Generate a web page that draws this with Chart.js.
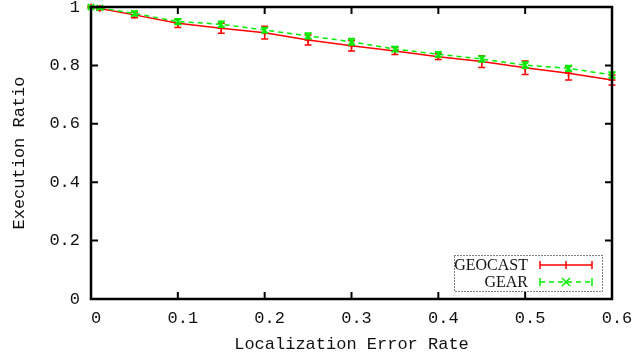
<!DOCTYPE html>
<html>
<head>
<meta charset="utf-8">
<script src="https://cdn.jsdelivr.net/npm/chart.js@4/dist/chart.umd.min.js"></script>
<style>
  html, body { margin: 0; padding: 0; background: #fff; }
  #wrap { width: 634px; height: 362px; }
</style>
</head>
<body>
<div id="wrap"><canvas id="chart" width="634" height="362"></canvas></div>
<script>
// localization error rate vs. execution ratio
const errorRates = [0, 0.01, 0.05, 0.1, 0.15, 0.2, 0.25, 0.3, 0.35, 0.4, 0.45, 0.5, 0.55, 0.6];
const geocastRatio = [1.0, 0.995, 0.973, 0.944, 0.927, 0.912, 0.887, 0.867, 0.849, 0.830, 0.813, 0.792, 0.773, 0.750];
const geocastErr = [0.003, 0.005, 0.010, 0.014, 0.017, 0.022, 0.017, 0.018, 0.012, 0.010, 0.020, 0.023, 0.023, 0.017];
const gearRatio = [1.0, 0.997, 0.978, 0.950, 0.941, 0.921, 0.901, 0.881, 0.856, 0.838, 0.822, 0.801, 0.790, 0.767];
const gearErr = [0.003, 0.004, 0.008, 0.010, 0.010, 0.009, 0.010, 0.011, 0.009, 0.009, 0.010, 0.011, 0.010, 0.010];
const xTicks = [0, 0.1, 0.2, 0.3, 0.4, 0.5, 0.6];
const yTicks = [0, 0.2, 0.4, 0.6, 0.8, 1];

const RED = '#ff0000';
const GREEN = '#00ee00';
const MONO = '"Liberation Mono", "DejaVu Sans Mono", monospace';
const SERIF = '"Liberation Serif", "DejaVu Serif", serif';

const fmt = v => String(+(+v).toFixed(1));

function pts(ys) {
    return errorRates.map((x, i) => ({ x: x, y: ys[i] }));
}

// vertical error bars with caps, drawn right after each dataset
const errorBars = {
    id: 'errorBars',
    afterDatasetDraw(chart, args) {
        const ds = chart.data.datasets[args.index];
        if (!ds.errors) return;
        const ctx = chart.ctx;
        const xs = chart.scales.x, ys = chart.scales.y;
        ctx.save();
        ctx.strokeStyle = ds.borderColor;
        ctx.lineWidth = 1.5;
        ctx.setLineDash([]);
        ds.data.forEach((p, i) => {
            const e = ds.errors[i];
            const px = xs.getPixelForValue(p.x);
            const top = ys.getPixelForValue(p.y + e);
            const bot = ys.getPixelForValue(p.y - e);
            ctx.beginPath();
            ctx.moveTo(px, top); ctx.lineTo(px, bot);
            ctx.moveTo(px - 3.5, top); ctx.lineTo(px + 3.5, top);
            ctx.moveTo(px - 3.5, bot); ctx.lineTo(px + 3.5, bot);
            ctx.stroke();
        });
        ctx.restore();
    }
};

// border box, inward ticks on all sides, and the boxed key
const frame = {
    id: 'frame',
    afterDraw(chart) {
        const ctx = chart.ctx;
        const a = chart.chartArea;
        const xs = chart.scales.x, ys = chart.scales.y;
        ctx.save();
        ctx.strokeStyle = '#000';
        ctx.lineWidth = 2;
        ctx.beginPath();
        xTicks.forEach(v => {
            const px = xs.getPixelForValue(v);
            ctx.moveTo(px, a.bottom); ctx.lineTo(px, a.bottom - 7);
            ctx.moveTo(px, a.top); ctx.lineTo(px, a.top + 7);
        });
        yTicks.forEach(v => {
            const py = ys.getPixelForValue(v);
            ctx.moveTo(a.left, py); ctx.lineTo(a.left + 7, py);
            ctx.moveTo(a.right, py); ctx.lineTo(a.right - 7, py);
        });
        ctx.stroke();
        ctx.lineWidth = 2.5;
        ctx.strokeRect(a.left, a.top, a.right - a.left, a.bottom - a.top);

        // key
        const bx = a.right - 158, by = a.bottom - 44, bw = 148, bh = 36;
        ctx.lineWidth = 1;
        ctx.setLineDash([1, 2]);
        ctx.strokeRect(bx + 0.5, by + 0.5, bw, bh);
        ctx.setLineDash([]);
        ctx.fillStyle = '#111';
        ctx.font = '16px ' + SERIF;
        ctx.textAlign = 'right';
        ctx.textBaseline = 'middle';
        const rows = [
            { label: 'GEOCAST', color: RED, dash: [], y: by + 10 },
            { label: 'GEAR', color: GREEN, dash: [5, 4], y: by + 27 }
        ];
        const l0 = bx + 86, l1 = bx + 138, lm = (l0 + l1) / 2;
        rows.forEach((r, i) => {
            ctx.fillText(r.label, bx + 74, r.y + 1);
            ctx.strokeStyle = r.color;
            ctx.lineWidth = 1.5;
            ctx.setLineDash(r.dash);
            ctx.beginPath();
            ctx.moveTo(l0, r.y); ctx.lineTo(l1, r.y);
            ctx.stroke();
            ctx.setLineDash([]);
            ctx.beginPath();
            ctx.moveTo(l0, r.y - 4); ctx.lineTo(l0, r.y + 4);
            ctx.moveTo(l1, r.y - 4); ctx.lineTo(l1, r.y + 4);
            if (i === 0) {
                ctx.moveTo(lm, r.y - 4); ctx.lineTo(lm, r.y + 4);
            } else {
                ctx.moveTo(lm - 4, r.y - 4); ctx.lineTo(lm + 4, r.y + 4);
                ctx.moveTo(lm + 4, r.y - 4); ctx.lineTo(lm - 4, r.y + 4);
            }
            ctx.stroke();
        });
        ctx.restore();
    }
};

new Chart(document.getElementById('chart'), {
    type: 'line',
    data: {
        datasets: [
            {
                label: 'GEOCAST',
                data: pts(geocastRatio),
                errors: geocastErr,
                order: 2,
                borderColor: RED,
                backgroundColor: RED,
                borderWidth: 1.5,
                pointStyle: 'cross',
                pointRadius: 3.5,
                pointBorderWidth: 1.5,
                tension: 0,
                clip: false
            },
            {
                label: 'GEAR',
                data: pts(gearRatio),
                errors: gearErr,
                order: 1,
                borderColor: GREEN,
                backgroundColor: GREEN,
                borderWidth: 1.5,
                borderDash: [5, 4],
                pointStyle: 'crossRot',
                pointRadius: 4.5,
                pointBorderWidth: 1.5,
                tension: 0,
                clip: false
            }
        ]
    },
    options: {
        responsive: false,
        animation: false,
        layout: { padding: { top: 7, right: 22, left: 0, bottom: 0 } },
        plugins: {
            legend: { display: false },
            tooltip: { enabled: false }
        },
        scales: {
            x: {
                type: 'linear',
                min: 0,
                max: 0.6,
                afterBuildTicks: s => { s.ticks = xTicks.map(v => ({ value: v })); },
                afterFit: s => { s.height = 63; s.paddingLeft = 0; s.paddingRight = 0; },
                grid: { display: false, drawTicks: false },
                border: { display: false },
                ticks: {
                    padding: 9,
                    labelOffset: 5,
                    maxRotation: 0,
                    color: '#111',
                    font: { family: MONO, size: 17 },
                    callback: fmt
                },
                title: {
                    display: true,
                    text: 'Localization Error Rate',
                    color: '#111',
                    font: { family: MONO, size: 17 },
                    padding: { top: 0, bottom: 7 }
                }
            },
            y: {
                type: 'linear',
                min: 0,
                max: 1,
                afterBuildTicks: s => { s.ticks = yTicks.map(v => ({ value: v })); },
                afterFit: s => { s.width = 91; s.paddingTop = 0; s.paddingBottom = 0; },
                grid: { display: false, drawTicks: false },
                border: { display: false },
                ticks: {
                    padding: 11,
                    color: '#111',
                    font: { family: MONO, size: 17 },
                    callback: fmt
                },
                title: {
                    display: true,
                    text: 'Execution Ratio',
                    color: '#111',
                    font: { family: MONO, size: 17 },
                    padding: { top: 9, bottom: 0 }
                }
            }
        }
    },
    plugins: [errorBars, frame]
});
</script>
</body>
</html>
